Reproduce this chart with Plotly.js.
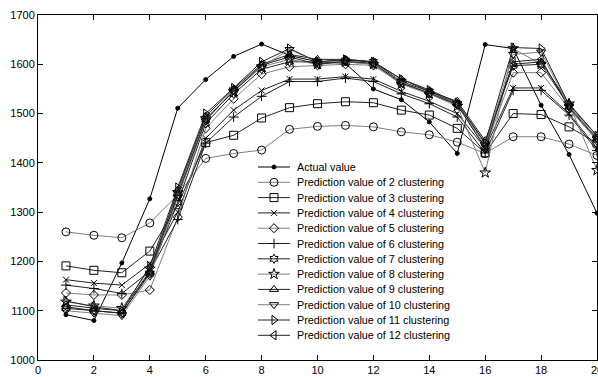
<!DOCTYPE html>
<html><head><meta charset="utf-8">
<script src="https://cdn.plot.ly/plotly-3.0.1.min.js"></script>
<style>html,body{margin:0;padding:0;background:#fff;}#chart{width:598px;height:377px;}</style>
</head><body><div id="chart"></div>
<script>
const xs = [1,2,3,4,5,6,7,8,9,10,11,12,13,14,15,16,17,18,19,20];
const actual = [1092,1080,1197,1327,1511,1569,1616,1641,1618,1605,1602,1550,1528,1483,1419,1640,1632,1517,1417,1298];
const c2  = [1260,1253,1248,1278,1335,1409,1419,1426,1468,1474,1476,1473,1463,1457,1442,1419,1453,1453,1438,1415];
const c3  = [1191,1182,1177,1221,1315,1441,1456,1491,1512,1520,1524,1522,1507,1497,1470,1420,1500,1498,1473,1440];
const c4  = [1163,1156,1152,1195,1300,1450,1507,1547,1570,1570,1575,1570,1545,1525,1500,1430,1552,1552,1500,1430];
const c5  = [1136,1132,1132,1142,1290,1470,1530,1580,1595,1598,1600,1598,1560,1540,1518,1430,1583,1583,1510,1445];
const c6  = [1152,1145,1135,1180,1285,1440,1493,1535,1565,1565,1572,1565,1540,1520,1493,1420,1547,1547,1497,1425];
const c7  = [1105,1100,1095,1175,1320,1480,1540,1590,1605,1605,1608,1605,1565,1545,1520,1440,1597,1600,1515,1450];
const c8  = [1118,1110,1105,1185,1340,1490,1545,1595,1610,1600,1605,1600,1560,1540,1515,1380,1632,1600,1520,1385];
const c9  = [1112,1105,1100,1180,1345,1495,1550,1600,1620,1610,1610,1605,1570,1545,1525,1445,1600,1605,1520,1455];
const c10 = [1100,1095,1090,1170,1330,1485,1548,1595,1630,1605,1605,1600,1565,1540,1520,1435,1620,1625,1515,1450];
const c11 = [1120,1108,1100,1190,1350,1500,1552,1605,1632,1605,1610,1605,1570,1548,1522,1440,1634,1632,1518,1455];
const c12 = [1108,1100,1095,1178,1335,1488,1545,1598,1615,1600,1606,1602,1562,1542,1518,1430,1605,1610,1512,1448];
const names = ["Actual value","Prediction value of 2 clustering","Prediction value of 3 clustering","Prediction value of 4 clustering","Prediction value of 5 clustering","Prediction value of 6 clustering","Prediction value of 7 clustering","Prediction value of 8 clustering","Prediction value of 9 clustering","Prediction value of 10 clustering","Prediction value of 11 clustering","Prediction value of 12 clustering"];
const xTicks = [0,2,4,6,8,10,12,14,16,18,20];
const yTicks = [1000,1100,1200,1300,1400,1500,1600,1700];

const series = [actual,c2,c3,c4,c5,c6,c7,c8,c9,c10,c11,c12];
const symbols = ["circle","circle-open","square-open","x-thin-open","diamond-open","cross-thin-open","hexagram-open","star-open","triangle-up-open","triangle-down-open","triangle-right-open","triangle-left-open"];
const sizes = [4,8,8,6,7,7,7,8,8,8,8,8];
const lineColors = ["#000","#808080","#222","#222","#808080","#222","#222","#808080","#222","#808080","#222","#222"];
const traces = series.map((ys,i)=>({
  x: xs, y: ys, name: names[i], type:'scatter', mode:'lines+markers', showlegend:false,
  line:{color:lineColors[i], width:1},
  marker:{symbol:symbols[i], size:sizes[i], color:'#000', line:{color:'#000', width:1}}
}));

// Hand-built legend (pixel coordinates on an overlay axis)
const legX0 = 258, legX1 = 290, legTextX = 295, legY0 = 167, legDy = 15.3;
const annotations = [];
names.forEach((n,i)=>{
  const y = legY0 + i*legDy;
  traces.push({x:[legX0,legX1], y:[y,y], xaxis:'x2', yaxis:'y2', type:'scatter', mode:'lines', showlegend:false, hoverinfo:'skip', line:{color:lineColors[i], width:1}});
  traces.push({x:[(legX0+legX1)/2], y:[y], xaxis:'x2', yaxis:'y2', type:'scatter', mode:'markers', showlegend:false, hoverinfo:'skip', marker:{symbol:symbols[i], size:sizes[i], color:'#000', line:{color:'#000', width:1}}});
  annotations.push({xref:'x2', yref:'y2', x:legTextX, y:y, text:n, showarrow:false, xanchor:'left', yanchor:'middle', font:{size:10.8, color:'#000'}});
});

const layout = {
  width:598, height:377,
  margin:{l:38,r:1,t:15,b:17},
  paper_bgcolor:'#fff', plot_bgcolor:'#fff',
  font:{family:'Liberation Sans, Arial, sans-serif', size:11, color:'#000'},
  showlegend:false,
  annotations: annotations,
  xaxis:{range:[0,20], tickvals:xTicks, ticktext:xTicks.map(String), ticks:'inside', ticklen:5, tickcolor:'#000', showline:true, linecolor:'#000', linewidth:1, mirror:'ticks', showgrid:false, zeroline:false, automargin:false, ticklabeloverflow:'allow'},
  yaxis:{range:[1000,1700], tickvals:yTicks, ticks:'inside', ticklen:5, tickcolor:'#000', showline:true, linecolor:'#000', linewidth:1, mirror:'ticks', showgrid:false, zeroline:false, automargin:false, ticklabeloverflow:'allow'},
  xaxis2:{overlaying:'x', range:[38,597], visible:false, fixedrange:true},
  yaxis2:{overlaying:'y', range:[360,15], visible:false, fixedrange:true}
};
Plotly.newPlot('chart', traces, layout, {displayModeBar:false, staticPlot:true});
</script></body></html>
